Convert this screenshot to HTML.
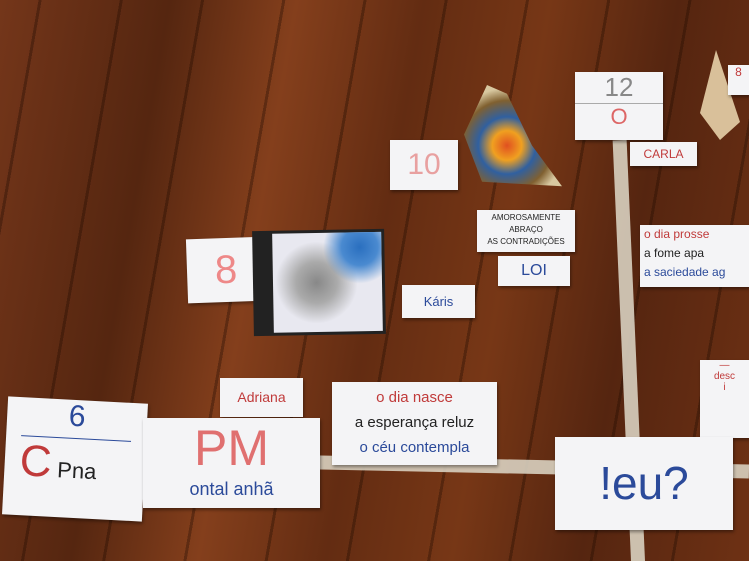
<!DOCTYPE html>
<html><head><meta charset="utf-8"><style>
html,body{margin:0;width:749px;height:561px;overflow:hidden;}
body{position:relative;
background:
repeating-linear-gradient(100deg,rgba(0,0,0,0) 0 38px,rgba(30,10,0,.35) 38px 41px,rgba(0,0,0,0) 41px 80px),
linear-gradient(100deg,#74361a 0%,#552610 20%,#843f1c 35%,#632c12 50%,#773716 65%,#552510 80%,#6e3114 100%);
font-family:"Liberation Sans",sans-serif;}
.c{position:absolute;background:#f4f4f6;box-shadow:1px 2px 3px rgba(0,0,0,.4);color:#c03a3a;text-align:center;}
.tape{position:absolute;background:#d8d0c0;opacity:.9}
.b{color:#2b4a9a}.k{color:#222}
</style></head><body>
<div class="tape" style="left:130px;top:458px;width:619px;height:14px;transform:rotate(1.2deg)"></div>
<div class="tape" style="left:622px;top:140px;width:14px;height:430px;transform:rotate(-2.5deg)"></div>

<div class="c" style="left:575px;top:72px;width:88px;height:68px;font-size:26px;color:#888">12<div style="border-top:1px solid #aaa;font-size:22px;color:#d66">O</div></div>
<div class="c" style="left:630px;top:142px;width:67px;height:24px;font-size:12px;line-height:24px">CARLA</div>
<div class="c" style="left:390px;top:140px;width:68px;height:50px;font-size:30px;line-height:50px;color:#e8a0a0">10</div>
<div style="position:absolute;left:462px;top:85px;width:100px;height:110px;background:radial-gradient(circle at 45% 55%,#e05020 0,#f0a020 18%,#3060a0 35%,#806030 55%,#d8c8a0 70%);clip-path:polygon(25% 0,45% 8%,70% 55%,100% 92%,20% 88%,2% 45%)"></div>
<div style="position:absolute;left:700px;top:50px;width:40px;height:90px;background:#d9c09a;clip-path:polygon(40% 0,100% 80%,50% 100%,0 70%)"></div>
<div class="c" style="left:728px;top:65px;width:21px;height:30px;font-size:12px">8</div>
<div class="c k" style="left:477px;top:210px;width:98px;height:42px;font-size:8px;line-height:12px;padding-top:2px;box-sizing:border-box">AMOROSAMENTE<br>ABRAÇO<br>AS CONTRADIÇÕES</div>
<div class="c b" style="left:498px;top:256px;width:72px;height:30px;font-size:16px;line-height:30px">LOI</div>
<div class="c" style="left:640px;top:225px;width:109px;height:62px;font-size:12px;text-align:left;line-height:19px;padding-left:4px;box-sizing:border-box">o dia prosse<br><span class="k">a fome apa</span><br><span class="b">a saciedade ag</span></div>
<div class="c" style="left:187px;top:238px;width:78px;height:64px;font-size:40px;line-height:64px;transform:rotate(-2deg);color:#e88;font-weight:100">8</div>
<div style="position:absolute;left:253px;top:230px;width:132px;height:105px;background:#222;transform:rotate(-1deg)"><div style="position:absolute;left:20px;top:3px;right:3px;bottom:3px;background:radial-gradient(circle at 80% 15%,#2a6fbf 0,#4a8ad0 15%,transparent 30%),radial-gradient(circle at 40% 50%,#888 0,#aaa 25%,#e8e8f0 50%)"></div></div>
<div class="c b" style="left:402px;top:285px;width:73px;height:33px;font-size:13px;line-height:33px">Káris</div>
<div class="c" style="left:220px;top:378px;width:83px;height:39px;font-size:14px;line-height:39px">Adriana</div>
<div class="c" style="left:332px;top:382px;width:165px;height:83px;font-size:15px;line-height:25px;padding-top:3px;box-sizing:border-box">o dia nasce<br><span class="k">a esperança reluz</span><br><span class="b">o céu contempla</span></div>
<div class="c" style="left:700px;top:360px;width:49px;height:78px;font-size:10px">—<br>desc<br>i</div>
<div class="c b" style="left:5px;top:400px;width:140px;height:118px;transform:rotate(3deg);font-size:30px">6<div style="border-top:1px solid #2b4a9a;margin:4px 15px;font-size:44px;color:#c03a3a;text-align:left">C<span class="k" style="font-size:22px"> Pna</span></div></div>
<div class="c" style="left:143px;top:418px;width:177px;height:90px;font-size:50px;line-height:60px;color:#e07070">PM<div class="b" style="font-size:18px;line-height:22px">ontal anhã</div></div>
<div class="c b" style="left:555px;top:437px;width:178px;height:93px;font-size:46px;line-height:93px">!eu?</div>
</body></html>
